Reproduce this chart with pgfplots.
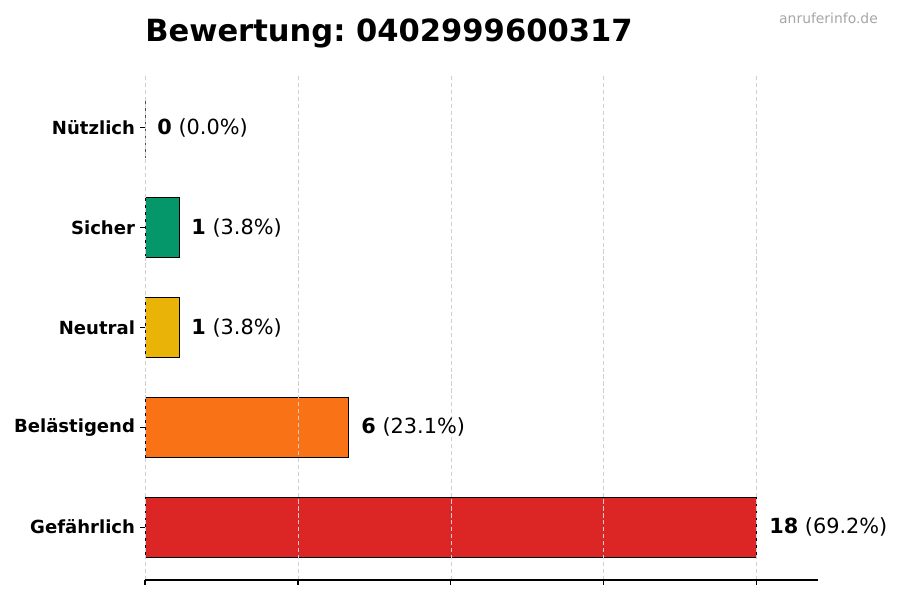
\documentclass[border=0pt]{standalone}
\usepackage{pgfplots}
\pgfplotsset{compat=1.18}
\usepackage{fontspec}
\setmainfont{DejaVu Sans}
\frenchspacing
\definecolor{cnuetz}{HTML}{2563EB}
\definecolor{csicher}{HTML}{059669}
\definecolor{cneutral}{HTML}{EAB308}
\definecolor{cbel}{HTML}{F97316}
\definecolor{cgef}{HTML}{DC2626}
\definecolor{gridc}{HTML}{D0D0D0}
\begin{document}
\begin{tikzpicture}
\path[use as bounding box] (0,0) rectangle (648pt,432pt);
\begin{axis}[
  at={(104.4pt,14.4pt)}, anchor=south west,
  scale only axis, width=484.6pt, height=363.6pt,
  xbar, bar width=0.6, bar shift=0pt,
  xmin=0, xmax=19.8, ymin=-0.53, ymax=4.53,
  xtick={0,4.5,9,13.5,18}, xticklabels={},
  ytick={0,1,2,3,4},
  yticklabels={Gefährlich,Belästigend,Neutral,Sicher,Nützlich},
  yticklabel style={font=\bfseries\fontsize{13}{15}\selectfont, inner sep=3.5pt},
  /pgf/number format/assume math mode=true,
  axis x line*=bottom, axis y line*=left,
  x axis line style={-, line width=0.8pt},
  y axis line style={draw=none},
  tick align=outside, major tick length=3.5pt,
  tick style={black, line width=0.8pt},
  xmajorgrids, major grid style={gridc, dash pattern=on 3pt off 2pt, line width=0.6pt},
  axis on top,
  every axis plot/.append style={draw=black, line width=0.7pt},
  nodes near coords={\textbf{\pgfmathprintnumber{\pgfplotspointmeta}}~(\pct\%)},
  nodes near coords style={anchor=west, inner sep=0pt, xshift=8.6pt, font=\fontsize{15}{18}\selectfont, black},
  visualization depends on={value \thisrow{p} \as \pct},
  point meta=x,
]
\addplot[fill=cgef] table[x=x,y=y] {
x y p
18 0 69.2
};
\addplot[fill=cbel] table[x=x,y=y] {
x y p
6 1 23.1
};
\addplot[fill=cneutral] table[x=x,y=y] {
x y p
1 2 3.8
};
\addplot[fill=csicher] table[x=x,y=y] {
x y p
1 3 3.8
};
\addplot[fill=cnuetz] table[x=x,y=y] {
x y p
0 4 0.0
};
\end{axis}
\node[anchor=base west, font=\bfseries\fontsize{22}{26}\selectfont, inner sep=0pt] at (104.4pt,402pt) {Bewertung: 0402999600317};
\node[anchor=base east, font=\fontsize{10}{12}\selectfont, text=black!35, inner sep=0pt] at (632.2pt,415.4pt) {anruferinfo.de};
\end{tikzpicture}
\end{document}
